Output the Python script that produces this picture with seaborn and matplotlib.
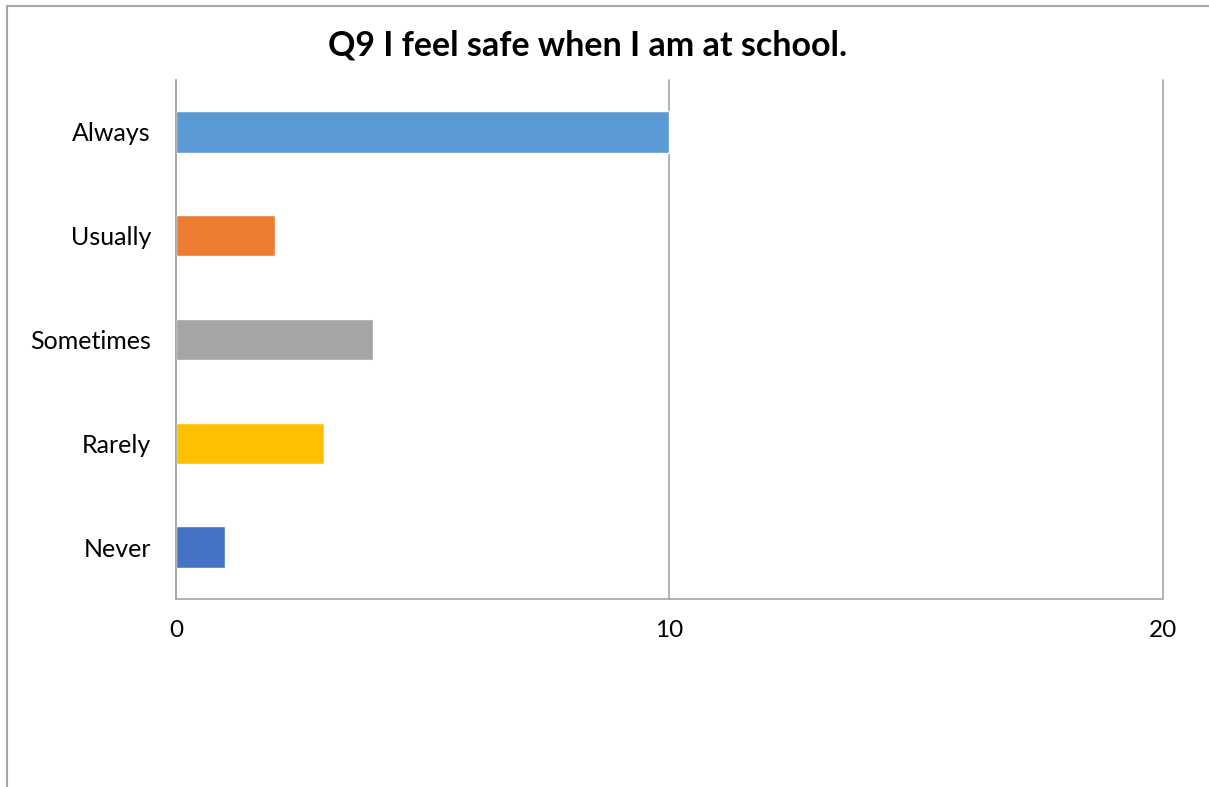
import pandas as pd
import matplotlib.pyplot as plt
import seaborn as sns
from matplotlib.lines import Line2D

# Data
categories = ['Always', 'Usually', 'Sometimes', 'Rarely', 'Never']
counts = [10, 2, 4, 3, 1]
colors = ['#5B9BD5', '#ED7D31', '#A5A5A5', '#FFC000', '#4472C4']
xticks = [0, 10, 20]

df = pd.DataFrame({'answer': categories, 'count': counts})

sns.set_style("white")
plt.rcParams['font.family'] = ['Lato', 'DejaVu Sans']
plt.rcParams['text.color'] = 'black'
plt.rcParams['xtick.color'] = 'black'
plt.rcParams['ytick.color'] = 'black'

fig = plt.figure(figsize=(12.09, 7.87), dpi=100)
ax = fig.add_axes([0.1456, 0.2389, 0.8163, 0.6594])

sns.barplot(data=df, y='answer', x='count', hue='answer', palette=colors,
            order=categories, hue_order=categories, width=0.4, legend=False,
            orient='h', ax=ax, saturation=1)

ax.set_xlim(0, 20)
ax.set_ylim(4.5, -0.5)
ax.set_xticks(xticks)
ax.set_xticklabels([str(t) for t in xticks], fontsize=17.5)
ax.tick_params(axis='y', labelsize=18, length=0, pad=18)
ax.tick_params(axis='x', length=0, pad=15)
ax.set_xlabel('')
ax.set_ylabel('')
ax.xaxis.grid(True, color='#A6A6A6', lw=1.2)
for gl in ax.get_xgridlines():
    gl.set_clip_on(False)
ax.set_axisbelow(True)
for s in ['top', 'right']:
    ax.spines[s].set_visible(False)
for s in ['left', 'bottom']:
    ax.spines[s].set_color('#A6A6A6')
    ax.spines[s].set_linewidth(1.2)

fig.text(0.486, 0.942, 'Q9 I feel safe when I am at school.', ha='center', va='center',
         fontsize=24.5, fontweight='bold')

# chart area border (only left and top visible)
fig.add_artist(Line2D([7 / 1209, 7 / 1209], [0, 1 - 6 / 787], color='#A6A6A6', lw=1.5,
                      transform=fig.transFigure))
fig.add_artist(Line2D([7 / 1209, 1], [1 - 6 / 787, 1 - 6 / 787], color='#A6A6A6', lw=1.5,
                      transform=fig.transFigure))

fig.savefig('out.png', dpi=100)
